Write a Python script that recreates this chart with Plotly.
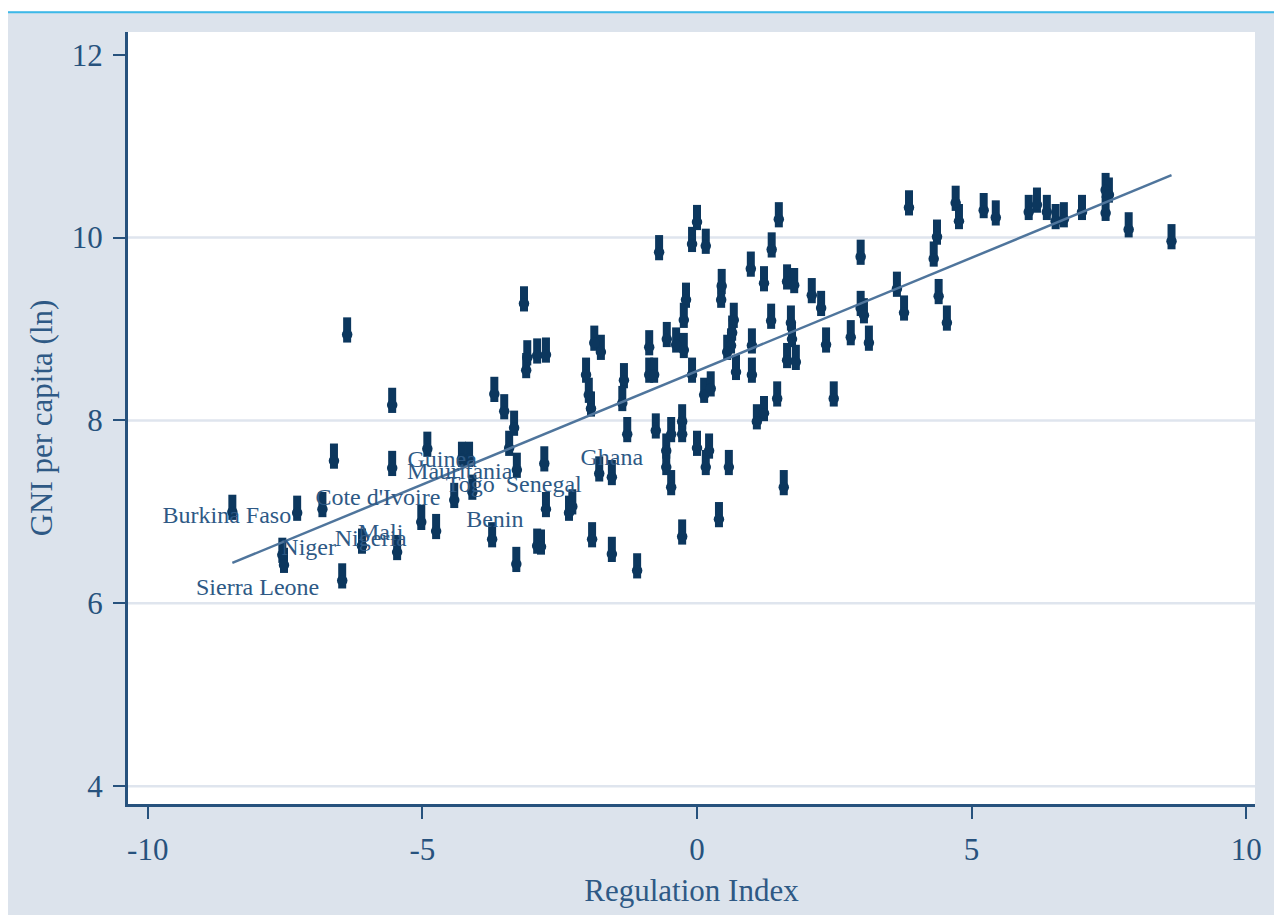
import plotly.graph_objects as go

# Regulation Index (x) and GNI per capita ln (y)
reg_index = [
    -8.46, -7.55, -7.52, -7.28, -6.82, -6.61, -6.37, -6.46, -6.10, -5.55,
    -5.55, -5.46, -5.02, -4.75, -4.91, -4.42, -4.28, -4.15, -4.09, -3.42,
    -3.33, -3.51, -3.69, -3.73, -3.29, -2.91, -2.75, -2.78, -3.15, -3.09,
    -2.91, -2.75, -3.11, -3.28, -0.69, -0.09, 0.16, 0.00, 1.36, 1.49,
    0.98, 1.22, 1.64, 1.77, 2.09, 2.26, 0.45, 0.44, -0.20, -0.24,
    -0.55, -0.38, -0.24, -0.87, -1.87, -1.75, -2.02, -1.97, -1.93, -1.33,
    -1.36, -0.87, -0.78, -0.09, 0.13, 0.25, 0.67, 0.64, 0.62, 0.55,
    0.71, 1.00, 1.00, 1.35, 1.46, 1.09, 1.22, 1.71, 1.73, 1.64,
    1.80, 2.35, 2.49, -1.27, -0.75, -0.47, -0.27, -0.27, 0.00, 0.22,
    0.16, -0.56, -0.56, -0.47, 0.58, 1.58, 0.40, -0.27, -1.09, -1.55,
    -1.91, -1.78, -1.55, -2.33, -2.27, -2.84, 3.86, 4.71, 4.77, 5.22,
    5.44, 6.04, 6.19, 6.37, 6.53, 6.68, 7.01, 7.44, 7.50, 7.44,
    7.86, 8.64, 4.37, 4.31, 3.64, 3.77, 4.40, 4.55, 2.98, 2.98,
    3.04, 2.80, 3.13,
]
gni_ln = [
    7.05, 6.58, 6.47, 7.04, 7.08, 7.61, 8.99, 6.30, 6.68, 8.22,
    7.53, 6.61, 6.94, 6.84, 7.74, 7.18, 7.63, 7.63, 7.27, 7.75,
    7.97, 8.15, 8.34, 6.75, 6.48, 6.68, 7.08, 7.58, 9.33, 8.74,
    8.76, 8.77, 8.60, 7.51, 9.89, 9.98, 9.96, 10.22, 9.92, 10.25,
    9.71, 9.55, 9.57, 9.53, 9.42, 9.28, 9.52, 9.37, 9.37, 9.15,
    8.94, 8.88, 8.82, 8.85, 8.90, 8.80, 8.55, 8.33, 8.18, 8.49,
    8.24, 8.55, 8.55, 8.55, 8.33, 8.40, 9.15, 9.01, 8.87, 8.80,
    8.58, 8.87, 8.55, 9.14, 8.29, 8.04, 8.13, 9.12, 8.94, 8.71,
    8.69, 8.88, 8.29, 7.90, 7.94, 7.90, 8.04, 7.90, 7.75, 7.72,
    7.54, 7.72, 7.54, 7.32, 7.54, 7.32, 6.97, 6.78, 6.41, 6.59,
    6.75, 7.47, 7.43, 7.04, 7.11, 6.67, 10.38, 10.43, 10.23, 10.35,
    10.27, 10.33, 10.41, 10.33, 10.23, 10.25, 10.33, 10.57, 10.52, 10.32,
    10.14, 10.01, 10.06, 9.82, 9.49, 9.23, 9.41, 9.12, 9.84, 9.28,
    9.20, 8.96, 8.90,
]

# Fitted line
fit_intercept = 8.54
fit_slope = 0.248

# Country labels and their text positions
label_names = ["Burkina Faso", "Sierra Leone", "Niger", "Nigeria", "Mali",
               "Cote d'Ivoire", "Guinea", "Mauritania", "Togo", "Senegal",
               "Benin", "Ghana"]
label_x = [-8.56, -8.00, -7.07, -5.94, -5.76, -5.81, -4.64, -4.32, -4.13, -2.79, -3.68, -1.55]
label_y = [6.94, 6.16, 6.59, 6.69, 6.76, 7.14, 7.56, 7.43, 7.28, 7.28, 6.90, 7.58]

x_ticks = [-10, -5, 0, 5, 10]
y_ticks = [4, 6, 8, 10, 12]
grid_y = [4, 6, 8, 10]

NAVY = "#0c375e"
AXIS = "#27527d"
BG = "#dce3ec"
FONT = "Liberation Serif"

fig = go.Figure()

for g in grid_y:
    fig.add_shape(type="line", xref="paper", x0=0, x1=1, yref="y", y0=g, y1=g,
                  line=dict(color="#dfe5ee", width=2.5), layer="below")

# marker glyph: a vertical shaft with a rounded, wider foot
fig.add_trace(go.Scatter(
    x=reg_index, y=gni_ln, mode="markers",
    marker=dict(symbol="line-ns", size=18, color=NAVY,
                line=dict(color=NAVY, width=8)),
    hoverinfo="skip", showlegend=False))

fig.add_trace(go.Scatter(
    x=reg_index, y=[v - 0.05 for v in gni_ln], mode="markers",
    marker=dict(symbol="circle", size=10.5, color=NAVY, line=dict(width=0)),
    hoverinfo="skip", showlegend=False))

x_lo, x_hi = min(reg_index), max(reg_index)
fig.add_trace(go.Scatter(
    x=[x_lo, x_hi], y=[fit_intercept + fit_slope * x_lo, fit_intercept + fit_slope * x_hi],
    mode="lines", line=dict(color="#4f759c", width=2.5),
    hoverinfo="skip", showlegend=False))

fig.add_trace(go.Scatter(
    x=label_x, y=label_y, mode="text", text=label_names,
    textposition="middle center",
    textfont=dict(family=FONT, size=24, color="#2e5985"),
    hoverinfo="skip", showlegend=False))

# frame decorations: white strip and cyan rule at the top
fig.add_shape(type="rect", xref="paper", yref="paper", x0=-0.2, x1=1.1, y0=1.0268, y1=1.06,
              fillcolor="white", line=dict(width=0), layer="below")
fig.add_shape(type="line", xref="paper", yref="paper", x0=-0.2, x1=1.1, y0=1.0255, y1=1.0255,
              line=dict(color="#3cb9e8", width=2))

fig.update_layout(
    width=1274, height=907,
    margin=dict(l=120, r=27, t=24, b=102),
    paper_bgcolor=BG, plot_bgcolor="white",
    font=dict(family=FONT, color=AXIS),
    xaxis=dict(range=[-10.36, 10.16], tickvals=x_ticks,
               ticktext=[str(t) for t in x_ticks],
               showgrid=False, zeroline=False, showline=True,
               linecolor=AXIS, linewidth=3, ticks="outside", ticklen=12,
               tickwidth=2, tickcolor=AXIS, ticklabelstandoff=4,
               tickfont=dict(family=FONT, size=31, color=AXIS),
               title=dict(text="Regulation Index", font=dict(family=FONT, size=31, color="#2e5985"),
                          standoff=14)),
    yaxis=dict(range=[3.805, 12.249], tickvals=y_ticks,
               showgrid=False, zeroline=False, showline=True,
               linecolor=AXIS, linewidth=3, ticks="outside", ticklen=12,
               tickwidth=2, tickcolor=AXIS, ticklabelstandoff=4,
               tickfont=dict(family=FONT, size=31, color=AXIS),
               title=dict(text="GNI per capita (ln)", font=dict(family=FONT, size=31, color="#2e5985"),
                          standoff=10)),
)

fig.write_html("out.html")
